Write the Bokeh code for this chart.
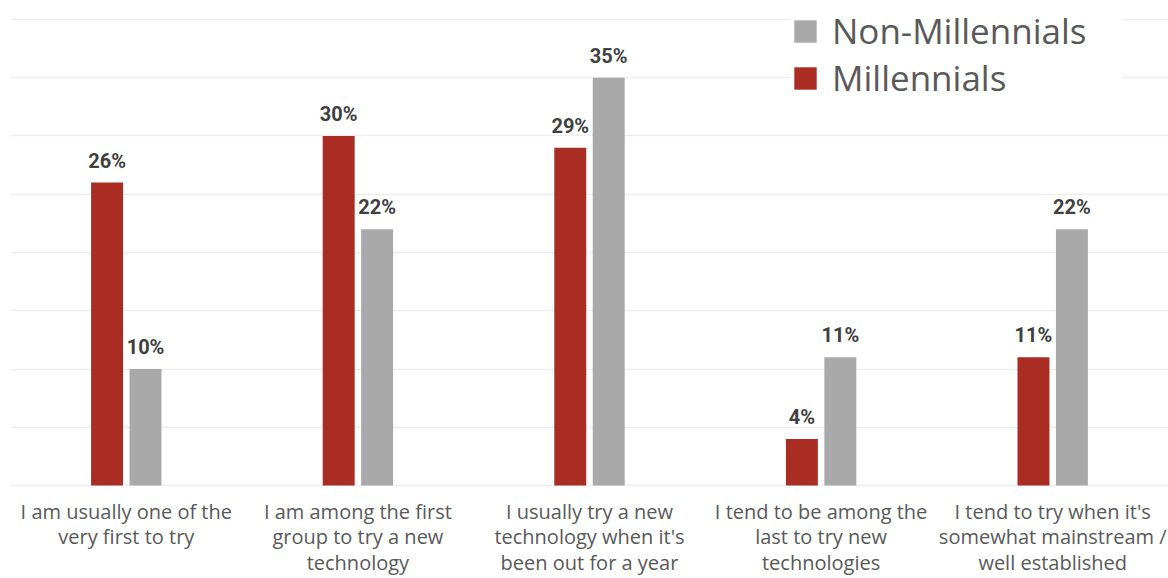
from bokeh.plotting import figure
from bokeh.models import ColumnDataSource, FixedTicker, Legend, LegendItem, Range1d
from bokeh.core.properties import value
from bokeh.transform import dodge
from bokeh.embed import file_html
from bokeh.resources import INLINE

categories = [
    "I am usually one of the\nvery first to try",
    "I am among the first\ngroup to try a new\ntechnology",
    "I usually try a new\ntechnology when it's\nbeen out for a year",
    "I tend to be among the\nlast to try new\ntechnologies",
    "I tend to try when it's\nsomewhat mainstream /\nwell established",
]
millennials = [26, 30, 29, 4, 11]
non_millennials = [10, 22, 35, 11, 22]
series_names = ["Millennials", "Non-Millennials"]
colors = ["#A92D23", "#A9A9A9"]
grid_ticks = [0, 5, 10, 15, 20, 25, 30, 35, 40]

idx = list(range(len(categories)))
src = ColumnDataSource(dict(
    x=idx,
    base=[0] * len(idx),
    cat=categories,
    mill=millennials,
    non=non_millennials,
    mill_lbl=[f"{v}%" for v in millennials],
    non_lbl=[f"{v}%" for v in non_millennials],
))

# frame covers whole canvas; the area below 0 holds the category labels
p = figure(width=1168, height=578, output_backend="svg", toolbar_location=None,
           x_range=Range1d(-0.5, 4.5), y_range=Range1d(-7.98, 41.63),
           min_border_left=10, min_border_right=0, min_border_top=0, min_border_bottom=0)
p.outline_line_color = None
p.background_fill_color = "white"
p.border_fill_color = "white"

off = 0.083
bw = 0.138
r_m = p.vbar(x=dodge("x", -off), top="mill", width=bw, source=src,
             fill_color=colors[0], line_color=None)
r_n = p.vbar(x=dodge("x", off), top="non", width=bw, source=src,
             fill_color=colors[1], line_color=None)

for xf, yf, tf in [(-off, "mill", "mill_lbl"), (off, "non", "non_lbl")]:
    p.text(x=dodge("x", xf), y=yf, text=tf, source=src, text_align="center",
           text_baseline="alphabetic", y_offset=-22, text_font=value("Roboto"),
           text_font_style="bold", text_font_size="20px", text_color="#404040")

# category labels below the baseline
p.text(x="x", y="base", text="cat", source=src, y_offset=12,
       text_align="center", text_baseline="top",
       text_font=value("Open Sans"), text_font_size="20px",
       text_line_height=0.96, text_color="#595959")

p.xaxis.visible = False
p.xgrid.grid_line_color = None
p.yaxis.visible = False
p.yaxis.ticker = FixedTicker(ticks=grid_ticks)
p.ygrid.grid_line_color = "#EDEDED"
p.ygrid.grid_line_width = 1.5

legend = Legend(items=[LegendItem(label="Non-Millennials", renderers=[r_n]),
                       LegendItem(label="Millennials", renderers=[r_m])],
                location=(781, 477), orientation="vertical",
                label_text_font="Open Sans", label_text_font_size="35px",
                label_text_color="#595959", glyph_width=28, glyph_height=28,
                label_standoff=13, spacing=-3, padding=10, margin=0,
                label_width=290,
                border_line_color=None, background_fill_color="white",
                background_fill_alpha=1.0)
p.add_layout(legend, "center")

open("out.html", "w").write(file_html(p, INLINE))
